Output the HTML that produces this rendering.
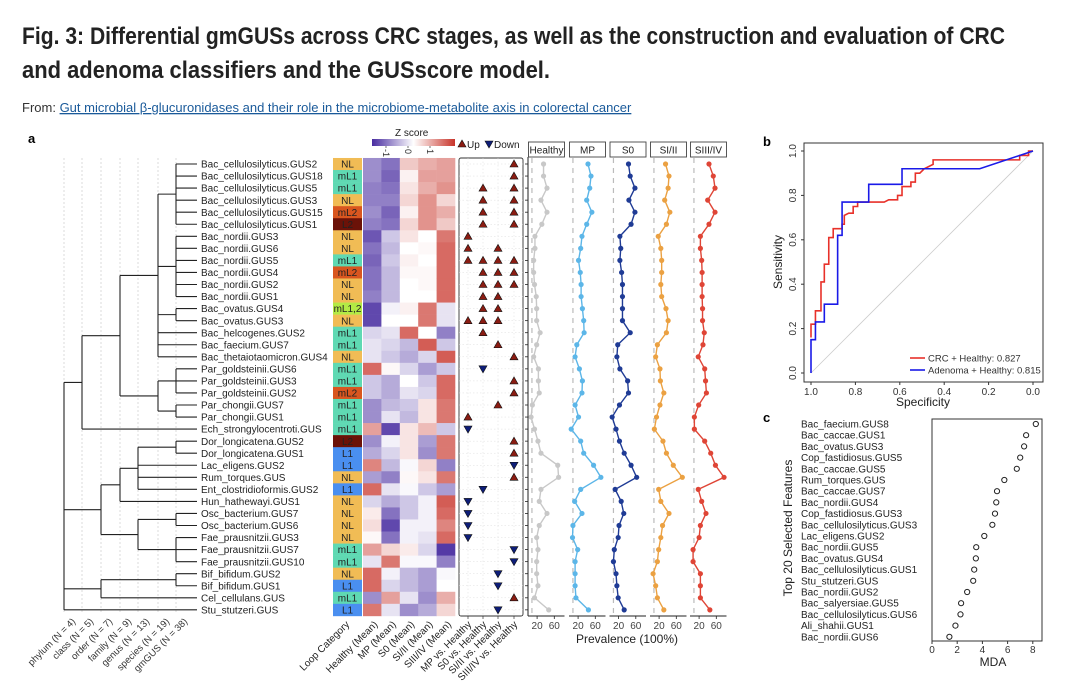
<!DOCTYPE html>
<html><head><meta charset="utf-8">
<style>
html,body{margin:0;padding:0;background:#fff;}
svg{display:block;font-family:"Liberation Sans",Arial,sans-serif;}
</style></head>
<body>
<svg id="fig" width="1080" height="685" viewBox="0 0 1080 685" xmlns="http://www.w3.org/2000/svg">
<text x="22" y="44" font-size="24" font-weight="bold" fill="#222" textLength="983" lengthAdjust="spacingAndGlyphs">Fig. 3: Differential gmGUSs across CRC stages, as well as the construction and evaluation of CRC</text>
<text x="22" y="78" font-size="24" font-weight="bold" fill="#222" textLength="528" lengthAdjust="spacingAndGlyphs">and adenoma classifiers and the GUSscore model.</text>
<text x="22" y="112" font-size="13" fill="#333">From: <tspan fill="#1a5a9a" text-decoration="underline">Gut microbial β-glucuronidases and their role in the microbiome-metabolite axis in colorectal cancer</tspan></text>
<text x="28" y="143" font-size="13" font-weight="bold">a</text>
<text x="763" y="146" font-size="13" font-weight="bold">b</text>
<text x="763" y="422" font-size="13" font-weight="bold">c</text>
<g id="pa"></g><g id="pb"></g><g id="pc"></g>
</svg>
<script>
// ---------- Panel a data ----------
const rowNames=["Bac_cellulosilyticus.GUS2","Bac_cellulosilyticus.GUS18","Bac_cellulosilyticus.GUS5","Bac_cellulosilyticus.GUS3","Bac_cellulosilyticus.GUS15","Bac_cellulosilyticus.GUS1","Bac_nordii.GUS3","Bac_nordii.GUS6","Bac_nordii.GUS5","Bac_nordii.GUS4","Bac_nordii.GUS2","Bac_nordii.GUS1","Bac_ovatus.GUS4","Bac_ovatus.GUS3","Bac_helcogenes.GUS2","Bac_faecium.GUS7","Bac_thetaiotaomicron.GUS4","Par_goldsteinii.GUS6","Par_goldsteinii.GUS3","Par_goldsteinii.GUS2","Par_chongii.GUS7","Par_chongii.GUS1","Ech_strongylocentroti.GUS","Dor_longicatena.GUS2","Dor_longicatena.GUS1","Lac_eligens.GUS2","Rum_torques.GUS","Ent_clostridioformis.GUS2","Hun_hathewayi.GUS1","Osc_bacterium.GUS7","Osc_bacterium.GUS6","Fae_prausnitzii.GUS3","Fae_prausnitzii.GUS7","Fae_prausnitzii.GUS10","Bif_bifidum.GUS2","Bif_bifidum.GUS1","Cel_cellulans.GUS","Stu_stutzeri.GUS"];
const loopCats=["NL","mL1","mL1","NL","mL2","L2","NL","NL","mL1","mL2","NL","NL","mL1,2","NL","mL1","mL1","NL","mL1","mL1","mL2","mL1","mL1","mL1","L2","L1","L1","NL","L1","NL","NL","NL","NL","mL1","mL1","NL","L1","mL1","L1"];
const heatCols=["Healthy (Mean)","MP (Mean)","S0 (Mean)","SI/II (Mean)","SIII/IV (Mean)"];
const zHealthy=[-0.8,-0.8,-0.9,-0.9,-0.8,-0.9,-1.2,-1,-1.1,-1,-1,-0.9,-1.3,-1.3,-0.3,-0.2,-0.2,1.1,-0.4,-0.4,-0.8,-0.8,0.7,-0.8,-0.6,0.9,-0.7,1.1,-0.3,0.15,0.25,0.05,0.7,-0.2,1.1,1.1,-0.8,1.0];
const zMP=[-1,-1.1,-1,-0.9,-1.1,-1,-0.4,-0.5,-0.4,-0.5,-0.5,-0.5,-0.1,0,-0.2,-0.3,-0.4,0.05,-0.6,-0.6,-0.5,-0.2,-1.3,-0.1,-0.3,-0.5,-0.9,-0.2,-0.6,-1.0,-1.3,-1.0,0.3,1.0,-0.1,-0.3,0.7,-0.2];
const zS0=[0.4,0.1,0.2,0.3,0.1,0.3,0.2,0,0.1,0.05,0,0,0.1,0,1.1,-0.5,-0.6,-0.3,0,-0.2,-0.4,-0.5,0.2,0.2,0.2,-0.05,0.05,-0.05,-0.4,-0.4,-0.1,-0.1,0.15,-0.05,-0.5,-0.5,-0.2,-0.8];
const zSI=[0.6,0.7,0.6,0.8,0.8,0.8,0,0.05,0,0.05,0.05,0,1.0,1.0,0,1.2,-0.3,-0.7,-0.4,-0.3,0.2,0.2,0.5,-0.7,-0.8,0.3,0.2,-0.4,-0.1,-0.1,-0.1,-0.2,-0.3,-0.05,-0.7,-0.7,-0.8,-0.6];
const zSIII=[0.7,0.7,0.8,0.3,0.6,0.4,1.0,1.1,1.1,1.1,1.1,1.1,-0.2,-0.2,-0.9,-0.4,1.2,-0.4,1.1,1.1,1.0,1.0,-0.4,1.0,1.0,-0.9,1.0,-0.7,1.2,1.1,0.9,1.1,-1.4,-0.9,-0.05,0,0.6,0.3];
const sigCols=["MP vs. Healthy","S0 vs. Healthy","SI/II vs. Healthy","SIII/IV vs. Healthy"];
const sigMP=[0,0,0,0,0,0,1,1,1,0,0,0,0,1,0,0,0,0,0,0,0,1,-1,0,0,0,0,0,-1,-1,-1,-1,0,0,0,0,0,0];
const sigS0=[0,0,1,1,1,1,0,0,1,1,1,1,1,1,1,0,0,-1,0,0,0,0,0,0,0,0,0,-1,0,0,0,0,0,0,0,0,0,0];
const sigSI=[0,0,0,0,0,0,0,1,1,1,1,1,1,1,0,1,0,0,0,0,1,0,0,0,0,0,0,0,0,0,0,0,0,0,-1,-1,0,-1];
const sigSIII=[1,1,1,1,1,1,0,0,1,1,1,0,0,0,0,0,1,0,1,1,0,0,0,1,1,-1,1,0,0,0,0,0,-1,-1,0,0,1,0];
const prevGroups=["Healthy","MP","S0","SI/II","SIII/IV"];
const prevHealthy=[35,35,43,29,43,31,15,15,12,12,14,18,19,19,27,19,12,23,23,25,9,6,14,22,29,68,70,29,25,43,25,19,22,19,19,22,14,47];
const prevMP=[43,50,47,40,52,40,29,26,21,25,27,27,30,33,34,17,13,23,30,29,13,21,4,26,33,56,73,26,12,29,8,7,19,13,13,13,15,44];
const prevS0=[43,47,58,44,58,49,23,25,23,27,29,29,29,29,47,18,16,23,41,43,22,5,14,22,33,49,62,12,26,32,21,19,10,8,14,16,19,33];
const prevSI=[35,43,41,33,45,37,18,24,26,26,24,26,36,41,37,16,12,22,23,31,22,14,9,29,37,53,74,19,24,43,28,24,19,16,6,12,16,31];
const prevSIII=[43,53,57,40,57,43,23,23,26,27,27,27,28,28,32,29,18,33,35,37,19,9,9,33,47,58,78,18,26,36,23,20,6,6,23,23,23,45];
const prevTicks=[20,60];
const zTicks=[-1,0,1];
const treeLevels=["phylum (N = 4)","class (N = 5)","order (N = 7)","family (N = 9)","genus (N = 13)","species (N = 19)","gmGUS (N = 38)"];
// ---------- Panel b data ----------
const crcSpec=[1,1,0.98,0.98,0.955,0.955,0.94,0.94,0.92,0.92,0.9,0.9,0.86,0.86,0.85,0.85,0.83,0.81,0.81,0.79,0.79,0.67,0.65,0.61,0.61,0.59,0.59,0.55,0.55,0.53,0.53,0.51,0.49,0.45,0.45,0.06,0.06,0.02,0.02,0];
const crcSens=[0.16,0.22,0.22,0.28,0.28,0.41,0.41,0.49,0.49,0.61,0.61,0.65,0.65,0.67,0.67,0.71,0.72,0.72,0.75,0.75,0.77,0.77,0.78,0.78,0.8,0.8,0.84,0.84,0.86,0.86,0.9,0.9,0.92,0.94,0.96,0.96,0.98,0.98,1,1];
const adnSpec=[1,1,0.98,0.98,0.94,0.94,0.88,0.88,0.86,0.86,0.74,0.74,0.59,0.59,0.24,0];
const adnSens=[0,0.15,0.15,0.23,0.23,0.31,0.31,0.62,0.62,0.77,0.77,0.85,0.85,0.92,0.92,1];
const rocTicks=[1.0,0.8,0.6,0.4,0.2,0.0];
// ---------- Panel c data ----------
const featNames=["Bac_faecium.GUS8","Bac_caccae.GUS1","Bac_ovatus.GUS3","Cop_fastidiosus.GUS5","Bac_caccae.GUS5","Rum_torques.GUS","Bac_caccae.GUS7","Bac_nordii.GUS4","Cop_fastidiosus.GUS3","Bac_cellulosilyticus.GUS3","Lac_eligens.GUS2","Bac_nordii.GUS5","Bac_ovatus.GUS4","Bac_cellulosilyticus.GUS1","Stu_stutzeri.GUS","Bac_nordii.GUS2","Bac_salyersiae.GUS5","Bac_cellulosilyticus.GUS6","Ali_shahii.GUS1","Bac_nordii.GUS6"];
const mdaVals=[8.24,7.47,7.31,7.0,6.73,5.74,5.16,5.1,5.0,4.79,4.15,3.51,3.48,3.35,3.27,2.79,2.31,2.26,1.86,1.38];
const mdaTicks=[0,2,4,6,8];

const NS="http://www.w3.org/2000/svg";
function mk(parent,tag,attrs,text){const e=document.createElementNS(NS,tag);for(const k in attrs)e.setAttribute(k,attrs[k]);if(text!==undefined)e.textContent=text;parent.appendChild(e);return e;}

// ===== Panel a =====
const pa=document.getElementById('pa');
const rowY=i=>164+i*12.05;
const rowH=12.05;
const leafX=197;
// dendrogram guides
const levelX=[64,82,101,120,138,158,176];
levelX.forEach((x,k)=>{
  const l=mk(pa,'line',{x1:x,y1:158,x2:x,y2:614,stroke:'#ccc','stroke-width':0.7,'stroke-dasharray':'2,2'});
  
  
  const t=mk(pa,'text',{x:x+12,y:622,'font-size':9.5,fill:'#333','text-anchor':'end',transform:`rotate(-45 ${x+12} 622)`},treeLevels[k]);
  
  
});
function N(x,c){return {x:x,c:c};}
const tree=N(64,[
  N(82,[N(120,[N(158,[N(176,[0,1,2,3,4,5]),N(176,[6,7,8,9,10,11]),N(176,[12,13]),14,15,16]),N(158,[N(176,[17,18,19]),N(176,[20,21])])]),22]),
  N(101,[N(120,[N(138,[N(176,[23,24]),25,26,27]),28]),N(138,[N(176,[29,30]),N(176,[31,32,33])])]),
  N(101,[N(176,[34,35]),36]),
  37]);
const dg=mk(pa,'g',{stroke:'#222','stroke-width':1.1,fill:'none'});


function draw(n){
  if(typeof n==='number') return rowY(n);
  const ys=n.c.map(ch=>{const y=draw(ch);const cx=(typeof ch==='number')?leafX:ch.x;mk(dg,'line',{x1:n.x,y1:y,x2:cx,y2:y});return y;});
  mk(dg,'line',{x1:n.x,y1:ys[0],x2:n.x,y2:ys[ys.length-1]});
  return (ys[0]+ys[ys.length-1])/2;
}
draw(tree);
// leaf labels
rowNames.forEach((nm,i)=>{
  const t=mk(pa,'text',{x:201,y:rowY(i)+3.6,'font-size':10,fill:'#222'},nm);
  
  
});
// loop category
const catColor={"NL":"#f1bc55","mL1":"#5fd9b3","mL2":"#d9561f","L2":"#6b1208","L1":"#4a8ff0","mL1,2":"#b3ea45"};
loopCats.forEach((c,i)=>{
  const r=mk(pa,'rect',{x:333,y:rowY(i)-rowH/2,width:29,height:rowH+0.3,fill:catColor[c]});
  
  
  const t=mk(pa,'text',{x:347.5,y:rowY(i)+3.6,'font-size':10,'text-anchor':'middle',fill:'#222'},c);
  
  
});
// heatmap
function zcol(z){z=Math.max(-1.5,Math.min(1.5,z));const f=Math.abs(z)/1.5;
  const tgt=z<0?[72,44,160]:[200,52,42];
  const c=tgt.map(v=>Math.round(255+(v-255)*f));return `rgb(${c[0]},${c[1]},${c[2]})`;}
const zSeries=[zHealthy,zMP,zS0,zSI,zSIII];
const hx0=363,hw=18.4;
zSeries.forEach((s,j)=>{
  s.forEach((z,i)=>{
    const r=mk(pa,'rect',{x:hx0+j*hw,y:rowY(i)-rowH/2,width:hw+0.3,height:rowH+0.3,fill:zcol(z)});
    
    
  });
});
['Loop Category'].concat(heatCols).forEach((lab,j)=>{
  const x=(j===0?350:hx0+(j-1)*hw+hw/2+6);
  const t=mk(pa,'text',{x:x,y:625,'font-size':10,'text-anchor':'end',fill:'#222',transform:`rotate(-45 ${x} 625)`},lab);
  
  
});
// z legend
const zdef=mk(pa,'defs',{});
const lg=mk(zdef,'linearGradient',{id:'zg',x1:0,x2:1,y1:0,y2:0});
[-1.5,-0.75,0,0.75,1.5].forEach((z,k)=>mk(lg,'stop',{offset:k/4,'stop-color':zcol(z)}));
const zr=mk(pa,'rect',{x:372,y:139,width:83,height:7,fill:'url(#zg)'});


const zt=mk(pa,'text',{x:395,y:136,'font-size':10,fill:'#222'},'Z score');


const zx=z=>408+z*22;
zTicks.forEach(v=>{
  mk(pa,'line',{x1:zx(v),y1:146,x2:zx(v),y2:148,stroke:'#333','stroke-width':0.7});
  const t=mk(pa,'text',{x:zx(v)-3,y:149,'font-size':9,fill:'#333',transform:`rotate(90 ${zx(v)-3} 149)`},String(v));
  
  
});
// significance panel
const sb=mk(pa,'rect',{x:459,y:158,width:64,height:458,fill:'none',stroke:'#333','stroke-width':0.9,rx:2});


const sigX=[468,483,498,514];
rowNames.forEach((n,i)=>{mk(pa,'line',{x1:459,y1:rowY(i),x2:523,y2:rowY(i),stroke:'#ddd','stroke-width':0.5,'stroke-dasharray':'1.5,2'});});
sigX.forEach((x,j)=>{
  mk(pa,'line',{x1:x,y1:158,x2:x,y2:616,stroke:'#ddd','stroke-width':0.5,'stroke-dasharray':'1.5,2'});
  mk(pa,'line',{x1:x,y1:616,x2:x,y2:619,stroke:'#333','stroke-width':0.7});
  const t=mk(pa,'text',{x:x+4,y:625,'font-size':10,'text-anchor':'end',fill:'#222',transform:`rotate(-45 ${x+4} 625)`},sigCols[j]);
  
  
});
function tri(x,y,up){
  const p=up?`${x},${y-4} ${x-4},${y+3} ${x+4},${y+3}`:`${x},${y+4} ${x-4},${y-3} ${x+4},${y-3}`;
  return mk(pa,'polygon',{points:p,fill:up?'#8a1c12':'#0d1d78',stroke:'#111','stroke-width':0.6});
}
[sigMP,sigS0,sigSI,sigSIII].forEach((s,j)=>{
  s.forEach((v,i)=>{ if(v!==0){const t=tri(sigX[j],rowY(i),v>0);
    
    }});
});
const lu=tri(462,144,true);


const lut=mk(pa,'text',{x:467,y:148,'font-size':10,fill:'#222'},'Up');


const ld=tri(489,144,false);


const ldt=mk(pa,'text',{x:494,y:148,'font-size':10,fill:'#222'},'Down');


// prevalence panels
const prevSeries=[prevHealthy,prevMP,prevS0,prevSI,prevSIII];
const prevColors=['#c8c8c8','#5cb6e8','#1f3b95','#eba142','#df4536'];
const panelX0=[528.5,569.5,610,650.5,690.5];
const pxScale=0.43;
const ax=mk(pa,'line',{x1:528,y1:157,x2:528,y2:616,stroke:'#222','stroke-width':1});


rowNames.forEach((n,i)=>mk(pa,'line',{x1:525,y1:rowY(i),x2:528,y2:rowY(i),stroke:'#222','stroke-width':0.8}));
prevSeries.forEach((s,j)=>{
  const x0=panelX0[j];const px=v=>x0+v*pxScale;
  const hb=mk(pa,'rect',{x:x0,y:142,width:36,height:15,fill:'#fff',stroke:'#444','stroke-width':0.9});
  
  
  const ht=mk(pa,'text',{x:x0+18,y:153.5,'font-size':10,'text-anchor':'middle',fill:'#222'},prevGroups[j]);
  
  
  mk(pa,'line',{x1:px(8),y1:158,x2:px(8),y2:614,stroke:'#bbb','stroke-width':1.2,'stroke-dasharray':'5,5'});
  const bl=mk(pa,'line',{x1:x0-0.5,y1:616,x2:x0+36,y2:616,stroke:'#222','stroke-width':1});
  
  
  prevTicks.forEach(v=>{
    mk(pa,'line',{x1:px(v),y1:616,x2:px(v),y2:619,stroke:'#222','stroke-width':0.8});
    const t=mk(pa,'text',{x:px(v),y:629,'font-size':10,'text-anchor':'middle',fill:'#444'},String(v));
    
    
  });
  const pts=s.map((v,i)=>`${px(v)},${rowY(i)}`).join(' ');
  const pl=mk(pa,'polyline',{points:pts,fill:'none',stroke:prevColors[j],'stroke-width':1.4});
  
  
  s.forEach((v,i)=>{const c=mk(pa,'circle',{cx:px(v),cy:rowY(i),r:2.6,fill:prevColors[j]});
    
    });
});
const pxt=mk(pa,'text',{x:627,y:643,'font-size':12,'text-anchor':'middle',fill:'#222'},'Prevalence (100%)');



// ===== Panel b =====
const pb=document.getElementById('pb');
const bx=s=>811+(1-s)*222, by=v=>373-v*222;
const bbox=mk(pb,'rect',{x:804,y:143,width:239,height:239,fill:'none',stroke:'#333','stroke-width':1});


const diag=mk(pb,'line',{x1:bx(1),y1:by(0),x2:bx(0),y2:by(1),stroke:'#ccc','stroke-width':0.8});


rocTicks.forEach(v=>{
  mk(pb,'line',{x1:bx(v),y1:382,x2:bx(v),y2:385,stroke:'#333'});
  const t=mk(pb,'text',{x:bx(v),y:395,'font-size':10,'text-anchor':'middle',fill:'#333'},v.toFixed(1));
  
  
  mk(pb,'line',{x1:801,y1:by(v),x2:804,y2:by(v),stroke:'#333'});
  const t2=mk(pb,'text',{x:796,y:by(v),'font-size':10,'text-anchor':'middle',fill:'#333',transform:`rotate(-90 796 ${by(v)})`},v.toFixed(1));
  
  
});
const bxt=mk(pb,'text',{x:923,y:406,'font-size':12,'text-anchor':'middle',fill:'#222'},'Specificity');


const byt=mk(pb,'text',{x:782,y:262,'font-size':12,'text-anchor':'middle',fill:'#222',transform:'rotate(-90 782 262)'},'Sensitivity');


const crc=mk(pb,'polyline',{points:crcSpec.map((s,i)=>`${bx(s)},${by(crcSens[i])}`).join(' '),fill:'none',stroke:'#e8312a','stroke-width':1.6});


const adn=mk(pb,'polyline',{points:adnSpec.map((s,i)=>`${bx(s)},${by(adnSens[i])}`).join(' '),fill:'none',stroke:'#1a1ae8','stroke-width':1.6});


[['CRC + Healthy: 0.827','#e8312a',358],['Adenoma + Healthy: 0.815','#1a1ae8',370]].forEach(([lab,col,y])=>{
  const l=mk(pb,'line',{x1:910,y1:y,x2:925,y2:y,stroke:col,'stroke-width':1.6});
  
  
  const t=mk(pb,'text',{x:928,y:y+3.5,'font-size':9.5,fill:'#333'},lab);
  
  
});

// ===== Panel c =====
const pc=document.getElementById('pc');
const cx=v=>932+v*12.6, cy=i=>424+i*11.2;
const cbox=mk(pc,'rect',{x:932,y:419,width:110,height:222,fill:'none',stroke:'#333','stroke-width':1});


featNames.forEach((f,i)=>{
  const t=mk(pc,'text',{x:801,y:cy(i)+3.5,'font-size':10,fill:'#222'},f);
  
  
  const c=mk(pc,'circle',{cx:cx(mdaVals[i]),cy:cy(i),r:2.6,fill:'none',stroke:'#222','stroke-width':1});
  
  
});
mdaTicks.forEach(v=>{
  mk(pc,'line',{x1:cx(v),y1:641,x2:cx(v),y2:644,stroke:'#333'});
  const t=mk(pc,'text',{x:cx(v),y:653,'font-size':10,'text-anchor':'middle',fill:'#333'},String(v));
  
  
});
const mt=mk(pc,'text',{x:993,y:666,'font-size':12,'text-anchor':'middle',fill:'#222'},'MDA');


const myt=mk(pc,'text',{x:792,y:528,'font-size':12,'text-anchor':'middle',fill:'#222',transform:'rotate(-90 792 528)'},'Top 20 Selected Features');


</script>
</body></html>
